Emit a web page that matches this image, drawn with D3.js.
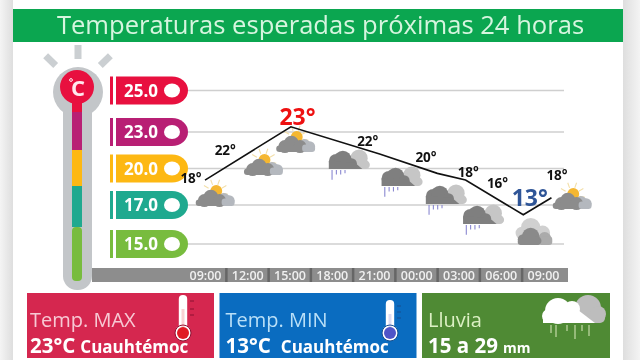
<!DOCTYPE html>
<html>
<head>
<meta charset="utf-8">
<script src="https://cdn.jsdelivr.net/npm/d3@7.9.0/dist/d3.min.js"></script>
<style>
  html, body { margin: 0; padding: 0; background: #fff; }
  svg { display: block; font-family: "Open Sans", sans-serif; filter: blur(0.45px); }
</style>
</head>
<body>
<svg id="chart" width="640" height="360"></svg>
<script>
// Data
const title = 'Temperaturas esperadas próximas 24 horas';
const levels = [25, 23, 20, 17, 15];
const levelColors = ['#e8103f', '#b81f74', '#fdb813', '#1fa98f', '#78bc3e'];
const timeLabels = ['09:00', '12:00', '15:00', '18:00', '21:00', '00:00', '03:00', '06:00', '09:00'];
const timeHours = [0, 3, 6, 9, 12, 15, 18, 21, 24];
const tempLabels = [18, 22, 23, 22, 20, 18, 16, 13, 18];
const icons = ['sun', 'sun', 'sun', 'rain', 'rain', 'rain', 'rain', 'cloud', 'sun'];
// the drawn line does not sit on its labels, so it is read against the axis
const lineHours = [0, 6.1, 12.4, 16.5, 18.5, 22.6, 24.6];
const lineLevels = [19.05, 23.25, 21.2, 19.6, 19.05, 16.5, 17.6];

// Layout for the labels and icons around the line
const labelDx = [-14, -22, 8, 36, 52, 52, 39, 29, 14];
const labelY = [178, 150, 117, 141, 157, 172, 183, 198, 175];
const iconDx = [8, 14, 4, 16.5, 27, 29, 24, 31, 27];
const iconBottom = [206, 175, 152, 169, 186, 204, 224, 245, 209];

const svg = d3.select('#chart');

const x = d3.scaleLinear().domain([0, 24]).range([205, 543]);
const y = d3.scaleLinear().domain([15, 17, 20, 23, 25]).range([244, 205, 168.5, 132, 90.5]);

// Page bands and header
const bandLeft = svg.append('defs').append('linearGradient').attr('id', 'bandL');
bandLeft.append('stop').attr('offset', 0).attr('stop-color', '#f4f4f4');
bandLeft.append('stop').attr('offset', 1).attr('stop-color', '#dedede');
const bandRight = svg.select('defs').append('linearGradient').attr('id', 'bandR');
bandRight.append('stop').attr('offset', 0).attr('stop-color', '#dedede');
bandRight.append('stop').attr('offset', 1).attr('stop-color', '#f4f4f4');
svg.append('rect').attr('width', 13).attr('height', 360).attr('fill', 'url(#bandL)');
svg.append('rect').attr('x', 623).attr('width', 17).attr('height', 360).attr('fill', 'url(#bandR)');

svg.append('rect').attr('x', 13).attr('y', 9).attr('width', 610).attr('height', 33).attr('fill', '#0ba650');
svg.append('text').attr('x', 320.5).attr('y', 34).attr('text-anchor', 'middle')
  .attr('font-size', 25.6).attr('fill', '#d6f5df').text(title);

// Gauge
const gauge = svg.append('g');
[-46, 0, 46].forEach(angle => {
  gauge.append('rect').attr('x', -3.5).attr('y', angle === 0 ? -42 : -45).attr('width', 7).attr('height', 14)
    .attr('fill', '#cbcfd2')
    .attr('transform', `translate(78,87) rotate(${angle})`);
});
gauge.append('circle').attr('cx', 78).attr('cy', 92).attr('r', 25).attr('fill', '#c3c6c9');
gauge.append('rect').attr('x', 63).attr('y', 90).attr('width', 29).attr('height', 200).attr('rx', 14).attr('fill', '#c3c6c9');

const gaugeStops = [112, 150, 186, 227, 281];
gaugeStops.forEach((stop, i) => {
  const top = i === 0 ? 90 : gaugeStops[i - 1];
  gauge.append('rect').attr('x', 72).attr('y', top).attr('width', 10).attr('height', stop - top)
    .attr('rx', i === 4 ? 4 : 0).attr('fill', levelColors[i]);
});
gauge.append('circle').attr('cx', 77).attr('cy', 87).attr('r', 17).attr('fill', levelColors[0]);
gauge.append('text').attr('x', 78).attr('y', 96).attr('text-anchor', 'middle')
  .attr('font-size', 22).attr('font-weight', 700).attr('fill', '#ffe9ee').text('C');
gauge.append('circle').attr('cx', 71).attr('cy', 80).attr('r', 1.4)
  .attr('fill', 'none').attr('stroke', '#ffe9ee').attr('stroke-width', 1);

// Gridlines and level pills
svg.append('g').selectAll('line').data(levels).join('line')
  .attr('x1', 186).attr('x2', 564)
  .attr('y1', d => y(d)).attr('y2', d => y(d))
  .attr('stroke', '#cfcfcf').attr('stroke-width', 1.4);

const pillTop = d => y(d) - 14;
const pill = svg.append('g').selectAll('g').data(levels).join('g')
  .attr('transform', d => `translate(0,${pillTop(d)})`);
pill.append('rect').attr('x', 110).attr('width', 3).attr('height', 28).attr('fill', (d, i) => levelColors[i]);
pill.append('path').attr('d', 'M116,0H172A16,14 0 0 1 188,14A16,14 0 0 1 172,28H116Z')
  .attr('fill', (d, i) => levelColors[i]);
pill.append('ellipse').attr('cx', 172).attr('cy', 14).attr('rx', 8).attr('ry', 7).attr('fill', '#fff');
pill.append('text').attr('x', 124).attr('y', 20).attr('font-size', 17).attr('font-weight', 700)
  .attr('fill', '#fff').text(d => d.toFixed(1));

// Time axis
svg.append('rect').attr('x', 92).attr('y', 268).attr('width', 476).attr('height', 14).attr('fill', '#8d8d8d');
const axis = svg.append('g').attr('transform', 'translate(0,268)')
  .call(d3.axisBottom(x).tickValues(timeHours).tickSize(0).tickPadding(3)
    .tickFormat((d, i) => timeLabels[i]));
axis.select('.domain').remove();
axis.selectAll('text').attr('font-family', '"Open Sans", sans-serif').attr('font-size', 12.5)
  .attr('font-weight', 600).attr('fill', '#f0f0f0');
svg.append('g').selectAll('rect').data(timeHours.slice(0, -1)).join('rect')
  .attr('x', d => x(d + 1.5) - 1).attr('y', 268).attr('width', 2.5).attr('height', 14).attr('fill', '#666');

// Weather icons
function cloudShape(g, parts, color) {
  parts.forEach(([cx, cy, r]) => g.append('circle').attr('cx', cx).attr('cy', cy).attr('r', r).attr('fill', color));
}
function drawIcon(g, kind) {
  if (kind === 'sun') {
    const rays = [-110, -70, -30, 10, -150];
    rays.forEach(a => {
      const rad = a * Math.PI / 180;
      g.append('line').attr('x1', 2 + 7 * Math.cos(rad)).attr('y1', -13 + 7 * Math.sin(rad))
        .attr('x2', 2 + 12 * Math.cos(rad)).attr('y2', -13 + 12 * Math.sin(rad))
        .attr('stroke', '#f3dfa8').attr('stroke-width', 1);
    });
    cloudShape(g, [[10, -6, 6], [15, -5, 5]], '#b4b8be');
    g.append('circle').attr('cx', 3).attr('cy', -14).attr('r', 5.5).attr('fill', '#f5b731');
    cloudShape(g, [[-8, -5, 6], [-2, -8, 7], [6, -5, 6]], '#8c8c8c');
    g.append('rect').attr('x', -16).attr('y', -6).attr('width', 26).attr('height', 6).attr('rx', 3).attr('fill', '#8c8c8c');
    g.append('rect').attr('x', 8).attr('y', -7).attr('width', 12).attr('height', 7).attr('rx', 3).attr('fill', '#b4b8be');
  } else if (kind === 'rain') {
    cloudShape(g, [[10, -10, 8], [3, -6, 6]], '#c6c6c6');
    g.append('rect').attr('x', 2).attr('y', -8).attr('width', 18).attr('height', 8).attr('rx', 4).attr('fill', '#c6c6c6');
    cloudShape(g, [[-11, -7, 7], [-5, -9, 8], [3, -5, 5]], '#7f7f7f');
    g.append('path').attr('d', 'M-18,-7L-18,0L13,0L6,-6Z').attr('fill', '#7f7f7f');
    [[-15, 9], [-11, 4], [-7, 4], [-3, 3]].forEach(([dx, len]) => {
      g.append('line').attr('x1', dx).attr('y1', 1).attr('x2', dx).attr('y2', 1 + len)
        .attr('stroke', '#8886d0').attr('stroke-width', 1);
    });
  } else {
    cloudShape(g, [[-1, -16, 9], [10, -11, 7], [-9, -11, 6]], '#d0d0d0');
    cloudShape(g, [[12, -6, 6]], '#ababab');
    g.append('rect').attr('x', 6).attr('y', -8).attr('width', 13).attr('height', 8).attr('rx', 3).attr('fill', '#ababab');
    cloudShape(g, [[-8, -5, 5], [-1, -8, 8], [5, -4, 4]], '#8a8a8a');
    g.append('rect').attr('x', -13).attr('y', -6).attr('width', 21).attr('height', 6).attr('rx', 3).attr('fill', '#8a8a8a');
  }
}
svg.append('g').selectAll('g').data(icons).join('g')
  .attr('transform', (d, i) => `translate(${x(timeHours[i]) + iconDx[i]},${iconBottom[i]}) scale(1.08)`)
  .each(function (d) { drawIcon(d3.select(this), d); });

// Temperature line
const line = d3.line().x(d => x(d[0])).y(d => y(d[1]));
svg.append('path').datum(d3.zip(lineHours, lineLevels))
  .attr('fill', 'none').attr('stroke', '#111').attr('stroke-width', 1.6).attr('d', line);

// Temperature labels
svg.append('g').selectAll('text').data(tempLabels).join('text')
  .attr('x', (d, i) => x(timeHours[i]) + labelDx[i])
  .attr('y', (d, i) => labelY[i] + (i === 2 || i === 7 ? 8 : 5))
  .attr('text-anchor', 'middle')
  .attr('font-weight', 700)
  .attr('font-size', (d, i) => (i === 2 || i === 7) ? 23 : 13.5)
  .attr('fill', (d, i) => i === 2 ? '#ee1111' : i === 7 ? '#2f5597' : '#111')
  .text(d => d + '°');

// Bottom panels
const panelX = [27, 219.5, 422];
const panelW = [187, 197, 188];
const panelColors = ['#d5274f', '#0a6cc0', '#4f8a34'];
const panelTitles = ['Temp. MAX', 'Temp. MIN', 'Lluvia'];
const panelTitleColors = ['#f7c9d4', '#b9dff7', '#dcf0c4'];
const panelBig = ['23°C', '13°C', '15 a 29'];
const panelSmall = ['Cuauhtémoc', 'Cuauhtémoc', 'mm'];
const panelSmallSize = [17, 17, 14];

const panel = svg.append('g').selectAll('g').data(panelTitles).join('g');
panel.append('rect')
  .attr('x', (d, i) => panelX[i]).attr('y', 293)
  .attr('width', (d, i) => panelW[i]).attr('height', 65)
  .attr('fill', (d, i) => panelColors[i]);
panel.append('text')
  .attr('x', (d, i) => panelX[i] + (i === 0 ? 3 : 6)).attr('y', 327)
  .attr('font-size', 20).attr('fill', (d, i) => panelTitleColors[i]).text(d => d);
const bigText = panel.append('text')
  .attr('x', (d, i) => panelX[i] + (i === 0 ? 3 : 6)).attr('y', 353)
  .attr('font-weight', 700).attr('fill', '#fff');
bigText.append('tspan').attr('font-size', 20.5).text((d, i) => panelBig[i]);
bigText.append('tspan').attr('dx', (d, i) => i === 1 ? 10 : 5).attr('font-size', (d, i) => panelSmallSize[i])
  .text((d, i) => panelSmall[i]);

// Thermometers
function thermometer(cx, top, bulb, edge, ticks) {
  const g = svg.append('g');
  g.append('rect').attr('x', cx - 4.2).attr('y', top).attr('width', 8.4).attr('height', 331 - top).attr('rx', 4).attr('fill', '#fff');
  g.append('circle').attr('cx', cx).attr('cy', 333).attr('r', 8).attr('fill', '#fff').attr('stroke', edge).attr('stroke-width', 1);
  g.append('circle').attr('cx', cx).attr('cy', 333).attr('r', 6).attr('fill', bulb);
  g.append('rect').attr('x', cx - 1.5).attr('y', top + 14).attr('width', 3).attr('height', 330 - top - 14)
    .attr('fill', bulb).attr('opacity', 0.2);
  ticks.forEach(t => {
    g.append('line').attr('x1', cx + 7).attr('x2', cx + 11).attr('y1', t).attr('y2', t)
      .attr('stroke', edge).attr('stroke-width', 1);
  });
}
thermometer(183, 295, '#e01b24', '#8c1233', [301, 309, 315]);
thermometer(390, 300, '#4f55c8', '#174f8f', [306, 312, 318]);

// Rain cloud in the green panel
const big = svg.append('g');
cloudShape(big, [[588, 308, 13], [598, 314, 8]], '#bdbdbd');
big.append('rect').attr('x', 572).attr('y', 312).attr('width', 33).attr('height', 11).attr('rx', 5).attr('fill', '#bdbdbd');
cloudShape(big, [[558, 311, 13], [572, 309, 8], [549, 316, 7]], '#fff');
big.append('path').attr('d', 'M543,323V314L578,310L595,323Z').attr('fill', '#fff');
[[551, 8], [556, 12], [567, 6], [575, 14], [582, 6], [589, 11]].forEach(([rx, len]) => {
  big.append('line').attr('x1', rx).attr('x2', rx).attr('y1', 325).attr('y2', 325 + len)
    .attr('stroke', '#c5dba8').attr('stroke-width', 1.2);
});
</script>
</body>
</html>
